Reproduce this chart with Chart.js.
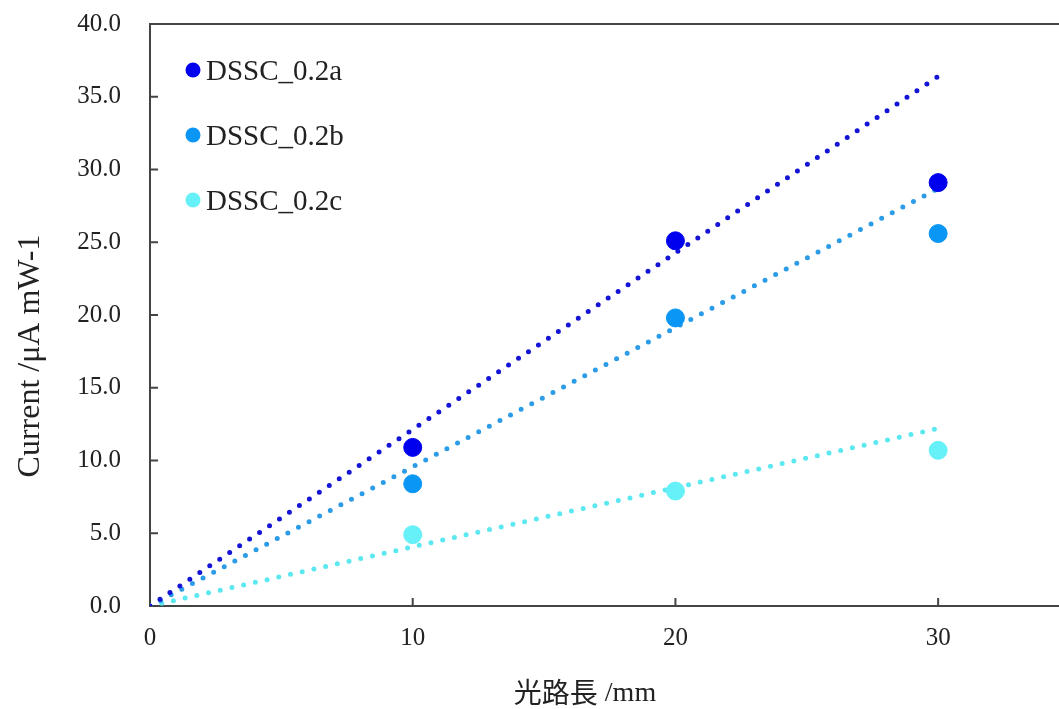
<!DOCTYPE html>
<html lang="ja">
<head>
<meta charset="UTF-8">
<title>光路長と電流</title>
<script src="https://cdn.jsdelivr.net/npm/chart.js"></script>
<style>
  html, body { margin: 0; padding: 0; background: #fff; overflow: hidden; }
</style>
</head>
<body>
<canvas id="currentChart" width="1059" height="709"></canvas>
<script>
  // 光路長 (mm) と各セルの電流値
  const pathLengths = [10, 20, 30];
  const seriesNames = ['DSSC_0.2a', 'DSSC_0.2b', 'DSSC_0.2c'];
  const currentA = [10.9, 25.1, 29.1];
  const currentB = [8.4, 19.8, 25.6];
  const currentC = [4.9, 7.9, 10.7];

  // 近似直線 (原点 ～ 30 mm)
  const trendX = [0, 30];
  const trendA = [0, 36.4];
  const trendB = [0, 28.7];
  const trendC = [0, 12.2];

  const xTicks = [0, 10, 20, 30];
  const yTicks = [0, 5, 10, 15, 20, 25, 30, 35, 40];

  const pointColors = ['#0000EE', '#0A96F5', '#66F0F8'];
  const lineColors = ['#1414D6', '#2C9CE6', '#5CE8F0'];
  const axisColor = '#444';
  const textColor = '#222';
  const serif = '"Liberation Serif", "Times New Roman", serif';

  const toXY = (xs, ys) => xs.map((x, i) => ({ x: x, y: ys[i] }));

  function pointSet(i, values) {
    return {
      type: 'scatter',
      label: seriesNames[i],
      data: toXY(pathLengths, values),
      backgroundColor: pointColors[i],
      borderColor: pointColors[i],
      pointRadius: 9,
      pointHoverRadius: 9,
      order: 0
    };
  }

  function trendSet(i, values) {
    return {
      type: 'line',
      label: seriesNames[i] + ' fit',
      data: toXY(trendX, values),
      borderColor: lineColors[i],
      borderWidth: 5,
      borderDash: [0, 12],
      borderCapStyle: 'round',
      pointRadius: 0,
      fill: false,
      order: 1
    };
  }

  // 枠線・内向き目盛り・凡例・軸タイトル
  const framePlugin = {
    id: 'framePlugin',
    afterDraw(chart) {
      const { ctx, chartArea: a, scales: { x, y } } = chart;
      ctx.save();
      ctx.strokeStyle = axisColor;
      ctx.lineWidth = 2;
      ctx.beginPath();
      ctx.moveTo(a.left, a.top);
      ctx.lineTo(a.right, a.top);
      y.ticks.forEach(t => {
        if (t.value > 0 && t.value < 40) {
          const p = y.getPixelForValue(t.value);
          ctx.moveTo(a.left, p);
          ctx.lineTo(a.left + 8, p);
        }
      });
      x.ticks.forEach(t => {
        if (t.value > 0) {
          const p = x.getPixelForValue(t.value);
          ctx.moveTo(p, a.bottom);
          ctx.lineTo(p, a.bottom - 8);
        }
      });
      ctx.stroke();

      // 凡例
      ctx.font = '29px ' + serif;
      ctx.textBaseline = 'middle';
      ctx.textAlign = 'left';
      seriesNames.forEach((name, i) => {
        const cy = 70 + i * 65;
        ctx.fillStyle = pointColors[i];
        ctx.beginPath();
        ctx.arc(193, cy, 7.5, 0, Math.PI * 2);
        ctx.fill();
        ctx.fillStyle = textColor;
        ctx.fillText(name, 206, cy + 2);
      });

      // 縦軸タイトル
      ctx.save();
      ctx.translate(31, 356);
      ctx.rotate(-Math.PI / 2);
      ctx.textAlign = 'center';
      ctx.font = '32px ' + serif;
      ctx.fillText('Current /μA mW-1', 0, 0);
      ctx.restore();

      // 横軸タイトル (漢字はゴシック、単位は明朝系)
      const jp = '光路長';
      const unit = ' /mm';
      const jpFont = '28px "Noto Sans CJK JP", sans-serif';
      const unitFont = '28px ' + serif;
      ctx.font = jpFont;
      const jpW = ctx.measureText(jp).width;
      ctx.font = unitFont;
      const unitW = ctx.measureText(unit).width;
      let tx = 585 - (jpW + unitW) / 2;
      ctx.textAlign = 'left';
      ctx.font = jpFont;
      ctx.fillText(jp, tx, 692);
      ctx.font = unitFont;
      ctx.fillText(unit, tx + jpW, 694);

      ctx.restore();
    }
  };

  const ctx = document.getElementById('currentChart').getContext('2d');
  new Chart(ctx, {
    data: {
      datasets: [
        pointSet(0, currentA), pointSet(1, currentB), pointSet(2, currentC),
        trendSet(0, trendA), trendSet(1, trendB), trendSet(2, trendC)
      ]
    },
    options: {
      responsive: false,
      animation: false,
      layout: {
        autoPadding: false,
        padding: { top: 24, left: 0, right: 0, bottom: 0 }
      },
      plugins: {
        legend: { display: false },
        tooltip: { enabled: false }
      },
      scales: {
        x: {
          type: 'linear',
          min: 0,
          max: 34.6,
          afterBuildTicks: s => { s.ticks = xTicks.map(v => ({ value: v })); },
          afterFit: s => {
            s.height = 103;
            s.paddingLeft = 0;
            s.paddingRight = 0;
          },
          grid: { display: false, drawTicks: false },
          border: { display: true, color: axisColor, width: 2 },
          ticks: {
            padding: 17,
            color: textColor,
            font: { family: serif, size: 25 }
          }
        },
        y: {
          type: 'linear',
          min: 0,
          max: 40,
          afterBuildTicks: s => { s.ticks = yTicks.map(v => ({ value: v })); },
          afterFit: s => {
            s.width = 150;
            s.paddingTop = 0;
            s.paddingBottom = 0;
          },
          grid: { display: false, drawTicks: false },
          border: { display: true, color: axisColor, width: 2 },
          ticks: {
            padding: 29,
            color: textColor,
            font: { family: serif, size: 25 },
            callback: v => Number(v).toFixed(1)
          }
        }
      }
    },
    plugins: [framePlugin]
  });
</script>
</body>
</html>
